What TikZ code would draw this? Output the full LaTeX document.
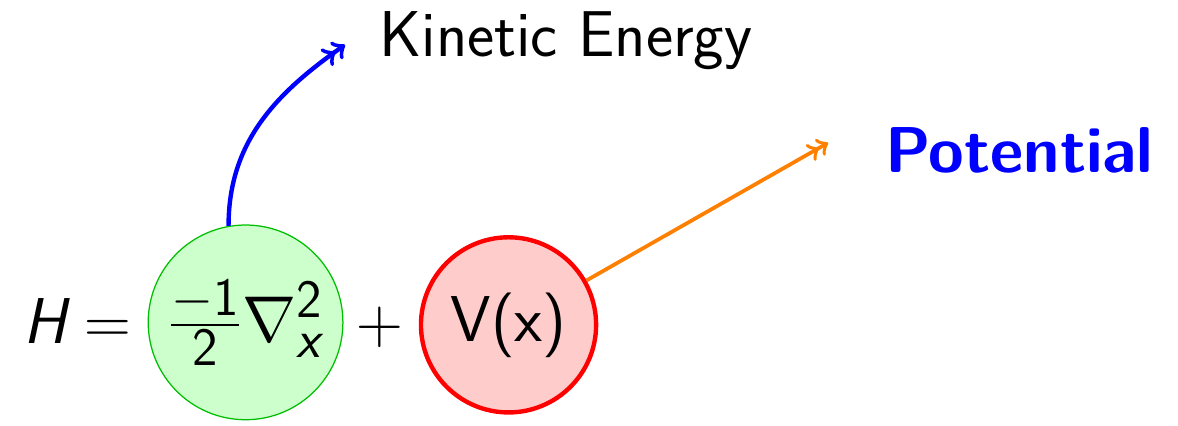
\documentclass[tikz,border=0pt]{standalone}
\usepackage{amsmath}
\renewcommand{\familydefault}{\sfdefault}
\DeclareMathSizes{20.74}{20.74}{17.28}{14.4}
\usetikzlibrary{positioning}
\begin{document}
\begin{tikzpicture}[
    every node/.style={font=\huge},
    term/.style={inner sep=0pt, anchor=base west},
    kinball/.style={circle, draw=green!75!black, thin, fill=green!20, inner sep=0pt, minimum size=2.19cm},
    potball/.style={circle, draw=red, line width=1.4pt, fill=red!20, inner sep=0pt, minimum size=1.97cm}
  ]
  \useasboundingbox (0,0) rectangle (13.25,4.79);

  \node[term] (ham) at (0.26,0.9225) {$\textsl{H}=$};
  \node[kinball] (lap) at (2.762,1.164) {$\frac{-\text{1}}{\text{2}}\nabla^{\text{2}}_{\textsl{x}}$};
  \node[inner sep=0pt, anchor=base] (plus) at (4.275,0.9225) {$+$};
  \node[potball] (vx) at (5.72,1.136) {V(x)};

  \node[term] (kintext) at (4.26,4.151) {Kinetic Energy};
  \node[term, text=blue, font=\huge\bfseries] (pottext) at (9.95,2.846) {Potential};

  \coordinate (kinend) at (3.881,4.286);
  \coordinate (potend) at (9.315,3.184);

  \draw[->>, line width=1.4pt, blue] (lap.100) to[out=90, in=215] (kinend);
  \draw[->>, line width=1.2pt, orange] (vx) -- (potend);
\end{tikzpicture}
\end{document}
